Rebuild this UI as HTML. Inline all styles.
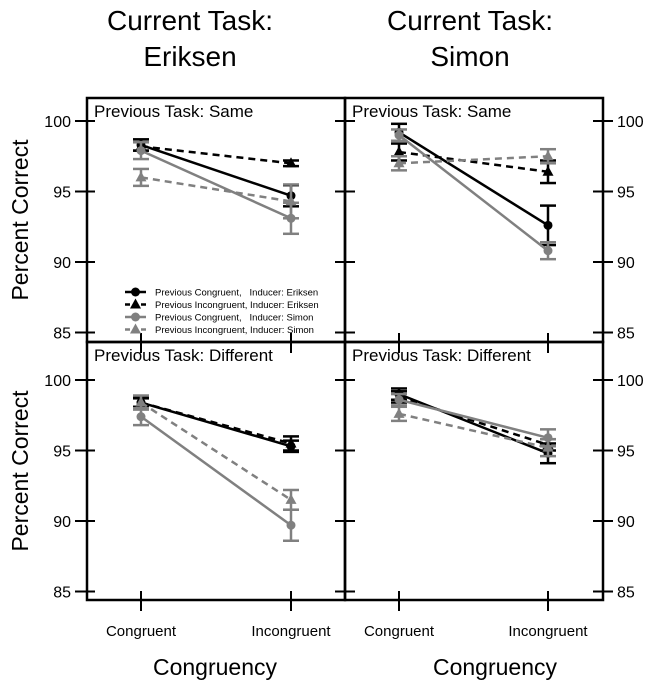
<!DOCTYPE html>
<html><head><meta charset="utf-8"><style>
body{margin:0;background:#fff}
svg{display:block;font-family:"Liberation Sans",Arial,sans-serif}
</style></head><body>
<svg id="c" width="653" height="687" viewBox="0 0 653 687"></svg>
<script>
const conditions=["Congruent","Incongruent"];
const yTicks=[85,90,95,100];
const seriesNames=["Previous Congruent,   Inducer: Eriksen","Previous Incongruent, Inducer: Eriksen","Previous Congruent,   Inducer: Simon","Previous Incongruent, Inducer: Simon"];
const meansBlackCirc=[[98.3,94.7],[99.2,92.6],[98.4,95.3],[99.0,94.8]];
const errBlackCirc=[[0.4,0.75],[0.6,1.4],[0.3,0.4],[0.4,0.7]];
const meansBlackTri=[[98.2,97.0],[97.8,96.4],[98.4,95.5],[98.8,95.4]];
const errBlackTri=[[0.3,0.2],[0.6,0.8],[0.4,0.5],[0.4,0.4]];
const meansGrayCirc=[[97.9,93.1],[99.0,90.8],[97.4,89.7],[98.6,95.9]];
const errGrayCirc=[[0.6,1.1],[0.4,0.6],[0.6,1.1],[0.4,0.6]];
const meansGrayTri=[[96.0,94.3],[97.0,97.5],[98.4,91.5],[97.6,95.2]];
const errGrayTri=[[0.6,1.2],[0.5,0.5],[0.5,0.7],[0.5,0.6]];
const panelLabels=["Previous Task: Same","Previous Task: Same","Previous Task: Different","Previous Task: Different"];

const S=document.getElementById('c');const NS="http://www.w3.org/2000/svg";
function mk(t,a,txt){const e=document.createElementNS(NS,t);for(const k in a)e.setAttribute(k,a[k]);if(txt!=null)e.textContent=txt;S.appendChild(e);return e;}
const panels=[{x0:87,x1:345,y0:98,y1:342,y100:121,cx:[141,291]},{x0:345,x1:603,y0:98,y1:342,y100:121,cx:[399,548]},
{x0:87,x1:345,y0:342,y1:600,y100:380,cx:[141,291]},{x0:345,x1:603,y0:342,y1:600,y100:380,cx:[399,548]}];
const per=14.1;
function yS(p,v){return p.y100+(100-v)*per;}
const series=[{m:meansBlackCirc,e:errBlackCirc,col:"#000",dash:null,shape:"c"},{m:meansBlackTri,e:errBlackTri,col:"#000",dash:"7,5",shape:"t"},
{m:meansGrayCirc,e:errGrayCirc,col:"#808080",dash:null,shape:"c"},{m:meansGrayTri,e:errGrayTri,col:"#808080",dash:"7,5",shape:"t"}];
function marker(x,y,s,col,name){let e;if(s==="c")e=mk('circle',{cx:x,cy:y,r:4.5,fill:col});else e=mk('polygon',{points:`${x},${y-6} ${x-5.5},${y+4} ${x+5.5},${y+4}`,fill:col});
}
panels.forEach((p,pi)=>{
  const lb=mk('text',{x:p.x0+7,y:p.y0+19,'font-size':17},panelLabels[pi]);
  yTicks.forEach(t=>{const y=yS(p,t);
    if(pi%2===0){mk('line',{x1:p.x0-12,x2:p.x0+8,y1:y,y2:y,stroke:'#000','stroke-width':2});
      const tl=mk('text',{x:p.x0-16,y:y+6,'font-size':16,'text-anchor':'end'},t);}
    else{mk('line',{x1:p.x0-10,x2:p.x0+10,y1:y,y2:y,stroke:'#000','stroke-width':2});
      mk('line',{x1:p.x1-10,x2:p.x1+10,y1:y,y2:y,stroke:'#000','stroke-width':2});
      const tl=mk('text',{x:p.x1+14,y:y+6,'font-size':16},t);}
  });
  p.cx.forEach(x=>{mk('line',{x1:x,x2:x,y1:p.y1-9,y2:p.y1+11,stroke:'#000','stroke-width':2});});
  series.forEach((s,si)=>{
    const v=s.m[pi],er=s.e[pi];
    const ln=mk('line',{x1:p.cx[0],y1:yS(p,v[0]),x2:p.cx[1],y2:yS(p,v[1]),stroke:s.col,'stroke-width':2.5});
    if(s.dash)ln.setAttribute('stroke-dasharray',s.dash);
    
    [0,1].forEach(k=>{const x=p.cx[k],lo=yS(p,v[k]-er[k]),hi=yS(p,v[k]+er[k]);
      mk('line',{x1:x,x2:x,y1:lo,y2:hi,stroke:s.col,'stroke-width':2.5});
      mk('line',{x1:x-8,x2:x+8,y1:lo,y2:lo,stroke:s.col,'stroke-width':2.5});
      mk('line',{x1:x-8,x2:x+8,y1:hi,y2:hi,stroke:s.col,'stroke-width':2.5});
      marker(x,yS(p,v[k]),s.shape,s.col,'data-point');});
  });
  mk('rect',{x:p.x0,y:p.y0,width:p.x1-p.x0,height:p.y1-p.y0,fill:'none',stroke:'#000','stroke-width':2.5});
});
[[190,"Eriksen"],[470,"Simon"]].forEach(([x,n])=>{
  const a=mk('text',{x:x,y:30,'font-size':28,'text-anchor':'middle'},"Current Task:");
  const b=mk('text',{x:x,y:66,'font-size':28,'text-anchor':'middle'},n);
  const c=mk('text',{x:x+25,y:675,'font-size':23,'text-anchor':'middle'},"Congruency");
});
[[141,"Congruent"],[291,"Incongruent"],[399,"Congruent"],[548,"Incongruent"]].forEach(([x,t])=>{
  const e=mk('text',{x:x,y:636,'font-size':15,'text-anchor':'middle'},t);});
[220,471].forEach(cy=>{const e=mk('text',{x:0,y:0,'font-size':23,'text-anchor':'middle',transform:`translate(28,${cy}) rotate(-90)`},"Percent Correct");
  });
series.forEach((s,i)=>{const y=292+i*12.5;
  const l=mk('line',{x1:125,x2:146,y1:y,y2:y,stroke:s.col,'stroke-width':2.5});if(s.dash)l.setAttribute('stroke-dasharray','5,3');
  marker(135.5,y,s.shape,s.col,'legend-marker');
  const t=mk('text',{x:155,y:y+3.5,'font-size':9.5},seriesNames[i]);
  t.setAttribute('style','white-space:pre');
  });
</script>
</body></html>
